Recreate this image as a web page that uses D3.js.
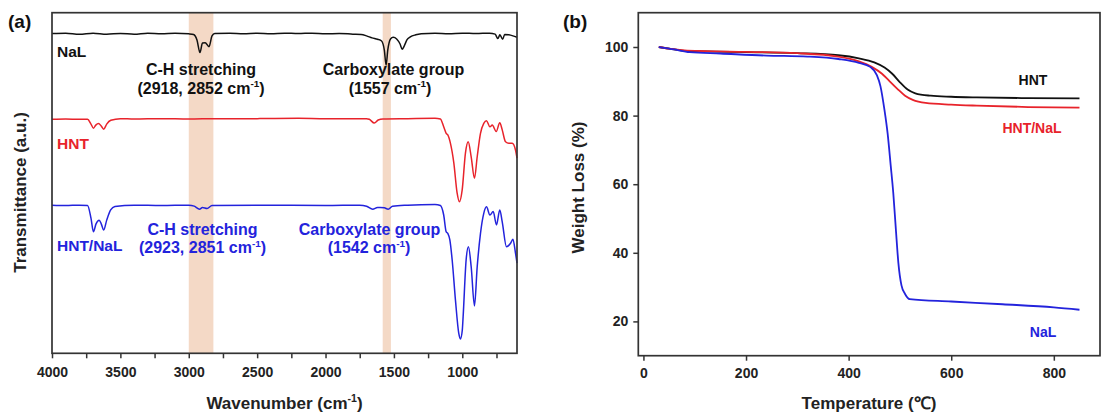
<!DOCTYPE html>
<html><head><meta charset="utf-8">
<script src="https://cdn.jsdelivr.net/npm/d3@7"></script>
<style>
body{margin:0;background:#fff}
svg{display:block}
text{font-family:"Liberation Sans",Arial,Helvetica,sans-serif;font-weight:bold}
</style>
</head><body>
<svg id="c" width="1102" height="413"></svg>
<script>
// ---------------- DATA ----------------
// FTIR (panel a) – transmittance in arbitrary units
const nalWavenumber = [4000,3900,3800,3700,3600,3500,3400,3300,3200,3100,3000,2965,2940,2918,2900,2880,2852,2830,2810,2700,2600,2500,2400,2300,2200,2100,2000,1900,1800,1740,1700,1660,1620,1590,1570,1557,1545,1525,1505,1480,1455,1440,1425,1405,1380,1340,1300,1200,1100,1000,900,800,760,740,725,705,690,660,630,600];
const nalTransmittance = [93.9,94.0,93.7,94.0,93.7,93.9,93.7,94.0,93.8,94.0,93.8,93.6,92.0,88.3,91.1,91.2,90.0,93.2,93.9,94.0,93.8,94.0,93.8,94.0,93.9,94.0,93.8,93.9,93.7,93.6,93.2,92.6,92.2,91.7,89.0,84.6,89.0,92.3,92.8,92.3,90.8,89.3,90.2,92.0,92.9,93.5,93.8,94.0,93.8,94.0,93.9,94.0,93.7,92.4,93.5,92.2,93.6,93.5,93.2,92.8];

const hntWavenumber = [4000,3900,3800,3740,3715,3697,3680,3660,3640,3622,3600,3570,3500,3400,3200,3000,2800,2500,2200,2000,1800,1700,1680,1643,1615,1580,1400,1200,1160,1136,1118,1106,1087,1062,1038,1021,1001,977,957,935,911,891,867,843,823,798,781,752,726,708,684,660,635,611,600];
const hntTransmittance = [68.7,68.8,68.7,68.7,67.3,66.1,67.0,67.5,66.7,65.8,67.3,68.4,68.9,68.8,68.9,68.8,68.9,68.9,69.0,68.9,68.9,68.9,68.7,67.6,68.5,68.8,68.9,69.0,68.8,66.5,64.6,64.1,61.7,55.9,47.1,44.5,47.9,58.8,62.1,57.7,51.4,57.7,64.6,67.5,68.3,66.5,67.0,65.1,67.7,65.6,62.1,61.7,61.7,59.7,57.3];

const hntNalWavenumber = [4000,3900,3800,3740,3715,3697,3678,3655,3640,3622,3600,3571,3540,3400,3200,3000,2960,2921,2900,2866,2830,2500,2000,1750,1700,1655,1620,1600,1570,1542,1510,1400,1200,1160,1136,1118,1106,1091,1074,1050,1026,1014,1000,994,972,955,935,911,891,867,843,823,798,774,750,726,708,677,647,630,611,600];
const hntNalTransmittance = [43.5,43.4,43.5,43.4,39.7,35.7,38.0,39.1,38.0,36.2,39.1,42.1,43.1,43.5,43.4,43.5,43.2,42.3,42.8,42.5,43.4,43.5,43.4,43.5,43.2,42.3,42.8,42.8,42.7,42.3,43.2,43.5,43.7,43.4,40.6,35.7,35.2,33.3,27.4,15.6,5.9,4.2,6.8,10.7,27.4,31.3,25.4,13.9,25.4,35.2,41.1,43.0,40.6,41.6,37.7,42.1,38.6,31.3,32.3,33.5,29.4,26.5];

const bandStart = [3000, 1582];
const bandEnd   = [2820, 1522];

// TGA (panel b)
const hntTemp   = [30,50,80,120,200,300,380,420,450,470,485,500,515,530,560,600,650,750,850];
const hntWeight = [100,99.5,98.9,98.7,98.5,98.2,97.6,96.7,95.5,94.0,92.2,89.7,87.6,86.5,85.8,85.5,85.3,85.1,85.0];
const hntNalTemp   = [30,50,80,120,200,300,380,420,445,465,480,495,510,525,550,600,650,750,850];
const hntNalWeight = [100,99.5,99.0,98.8,98.6,98.2,97.2,95.8,94.2,92.2,90.0,87.8,85.8,84.6,83.7,83.2,82.9,82.5,82.3];
const nalTemp   = [30,60,90,150,240,320,380,420,442,455,462,470,476,482,487,492,497,503,510,519,600,700,800,850];
const nalWeight = [100,99.3,98.5,98.1,97.5,97.2,96.5,95.4,94.2,91.8,88.6,81.5,74.8,65.5,57.5,47.0,37.0,30.5,28.0,26.5,25.8,25.0,24.1,23.4];

// Tick labels
const ftirMajorTicks = [4000,3500,3000,2500,2000,1500,1000];
const ftirMinorTicks = [3750,3250,2750,2250,1750,1250,750];
const tgaTempTicks = [0,200,400,600,800];
const tgaWeightTicks = [20,40,60,80,100];

// ---------------- DRAW ----------------
const BLACK = "#111", RED = "#e8232b", BLUE = "#2323dc", AXIS = "#333";
const svg = d3.select("#c");
const fmt = d3.format("d");

function richText(g, x, y, parts, color, size, anchor) {
  const t = g.append("text").attr("x", x).attr("y", y)
    .attr("fill", color).attr("font-size", size).attr("text-anchor", anchor || "start");
  let prevSup = false;
  parts.forEach(p => {
    const isSup = Array.isArray(p);
    const s = t.append("tspan").text(isSup ? p[0] : p);
    if (isSup) { s.attr("font-size", size * 0.62).attr("dy", -size * 0.4); prevSup = true; }
    else if (prevSup) { s.attr("dy", size * 0.4); prevSup = false; }
  });
  return t;
}

// ===== Panel (a) =====
const A = {left: 52, right: 517, top: 12.7, bottom: 353.3};
const xA = d3.scaleLinear().domain([4000, 600]).range([A.left, A.right]);
const yA = d3.scaleLinear().domain([0, 100]).range([A.bottom, A.top]);
const gA = svg.append("g");

gA.selectAll("rect.band").data(bandStart.map((s, i) => [s, bandEnd[i]])).join("rect")
  .attr("class", "band")
  .attr("x", d => xA(d[0])).attr("width", d => xA(d[1]) - xA(d[0]))
  .attr("y", A.top).attr("height", A.bottom - A.top)
  .attr("fill", "#f4d9c6");

const lineA = d3.line().x(d => xA(d[0])).y(d => yA(d[1])).curve(d3.curveMonotoneX);
[[nalWavenumber, nalTransmittance, BLACK],
 [hntWavenumber, hntTransmittance, RED],
 [hntNalWavenumber, hntNalTransmittance, BLUE]].forEach(([w, t, c]) => {
  gA.append("path").datum(w.map((v, i) => [v, t[i]]))
    .attr("fill", "none").attr("stroke", c).attr("stroke-width", 1.5)
    .attr("stroke-linejoin", "round").attr("d", lineA);
});

gA.append("rect").attr("x", A.left).attr("y", A.top)
  .attr("width", A.right - A.left).attr("height", A.bottom - A.top)
  .attr("fill", "none").attr("stroke", AXIS).attr("stroke-width", 1.7);

const axA = gA.append("g").attr("transform", `translate(0,${A.bottom})`)
  .call(d3.axisBottom(xA).tickValues(ftirMajorTicks).tickFormat(fmt).tickSize(5).tickPadding(9).tickSizeOuter(0));
const axAm = gA.append("g").attr("transform", `translate(0,${A.bottom})`)
  .call(d3.axisBottom(xA).tickValues(ftirMinorTicks).tickSize(5).tickFormat("").tickSizeOuter(0));
[axA, axAm].forEach(a => {
  a.select(".domain").remove();
  a.selectAll("line").attr("stroke", AXIS).attr("stroke-width", 1.5);
  a.selectAll("text").attr("fill", "#222").attr("font-size", 14)
    .style("font-family", '"Liberation Sans",Arial,sans-serif').style("font-weight", "bold");
});

richText(gA, 284.5, 409, ["Wavenumber (cm", ["-1"], ")"], "#222", 17, "middle");
gA.append("text").attr("transform", "translate(26,192.5) rotate(-90)")
  .attr("text-anchor", "middle").attr("font-size", 17).attr("fill", "#222")
  .text("Transmittance (a.u.)");
gA.append("text").attr("x", 8).attr("y", 28).attr("font-size", 19).attr("fill", "#111").text("(a)");

// series labels
gA.append("text").attr("x", 57).attr("y", 56.5).attr("font-size", 15.5).attr("fill", BLACK).text("NaL");
gA.append("text").attr("x", 57).attr("y", 148.5).attr("font-size", 15.5).attr("fill", RED).text("HNT");
gA.append("text").attr("x", 57).attr("y", 250.5).attr("font-size", 15.5).attr("fill", BLUE).text("HNT/NaL");

// annotations
richText(gA, 201, 75, ["C-H stretching"], BLACK, 16, "middle");
richText(gA, 201, 93.5, ["(2918, 2852 cm", ["-1"], ")"], BLACK, 16, "middle");
richText(gA, 393.5, 75, ["Carboxylate group"], BLACK, 16, "middle");
richText(gA, 390, 93.5, ["(1557 cm", ["-1"], ")"], BLACK, 16, "middle");
richText(gA, 202.5, 234.5, ["C-H stretching"], BLUE, 16, "middle");
richText(gA, 202.5, 253, ["(2923, 2851 cm", ["-1"], ")"], BLUE, 16, "middle");
richText(gA, 369.5, 234.5, ["Carboxylate group"], BLUE, 16, "middle");
richText(gA, 369, 253, ["(1542 cm", ["-1"], ")"], BLUE, 16, "middle");

// ===== Panel (b) =====
const B = {left: 638.3, right: 1100, top: 12.7, bottom: 355.7};
const xB = d3.scaleLinear().domain([-10, 890]).range([B.left, B.right]);
const yB = d3.scaleLinear().domain([10, 110]).range([B.bottom, B.top]);
const gB = svg.append("g");

const lineB = d3.line().x(d => xB(d[0])).y(d => yB(d[1])).curve(d3.curveMonotoneX);
[[hntTemp, hntWeight, BLACK],
 [hntNalTemp, hntNalWeight, RED],
 [nalTemp, nalWeight, BLUE]].forEach(([tt, ww, c]) => {
  gB.append("path").datum(tt.map((v, i) => [v, ww[i]]))
    .attr("fill", "none").attr("stroke", c).attr("stroke-width", 1.8)
    .attr("stroke-linejoin", "round").attr("d", lineB);
});

gB.append("rect").attr("x", B.left).attr("y", B.top)
  .attr("width", B.right - B.left).attr("height", B.bottom - B.top)
  .attr("fill", "none").attr("stroke", AXIS).attr("stroke-width", 1.7);

const axBx = gB.append("g").attr("transform", `translate(0,${B.bottom})`)
  .call(d3.axisBottom(xB).tickValues(tgaTempTicks).tickFormat(fmt).tickSize(5).tickPadding(7).tickSizeOuter(0));
const axBy = gB.append("g").attr("transform", `translate(${B.left},0)`)
  .call(d3.axisLeft(yB).tickValues(tgaWeightTicks).tickFormat(fmt).tickSize(5).tickPadding(5).tickSizeOuter(0));
[axBx, axBy].forEach(a => {
  a.select(".domain").remove();
  a.selectAll("line").attr("stroke", AXIS).attr("stroke-width", 1.5);
  a.selectAll("text").attr("fill", "#222").attr("font-size", 14)
    .style("font-family", '"Liberation Sans",Arial,sans-serif').style("font-weight", "bold");
});

gB.append("text").attr("x", 869).attr("y", 409).attr("text-anchor", "middle")
  .attr("font-size", 17).attr("fill", "#222").text("Temperature (\u2103)");
gB.append("text").attr("transform", "translate(583.5,187.5) rotate(-90)")
  .attr("text-anchor", "middle").attr("font-size", 17).attr("fill", "#222")
  .text("Weight Loss (%)");
gB.append("text").attr("x", 563).attr("y", 28).attr("font-size", 19).attr("fill", "#111").text("(b)");

gB.append("text").attr("x", 1033).attr("y", 85).attr("text-anchor", "middle")
  .attr("font-size", 14).attr("fill", BLACK).text("HNT");
gB.append("text").attr("x", 1032).attr("y", 132.5).attr("text-anchor", "middle")
  .attr("font-size", 14).attr("fill", RED).text("HNT/NaL");
gB.append("text").attr("x", 1043).attr("y", 337).attr("text-anchor", "middle")
  .attr("font-size", 14).attr("fill", BLUE).text("NaL");
</script>
</body></html>
